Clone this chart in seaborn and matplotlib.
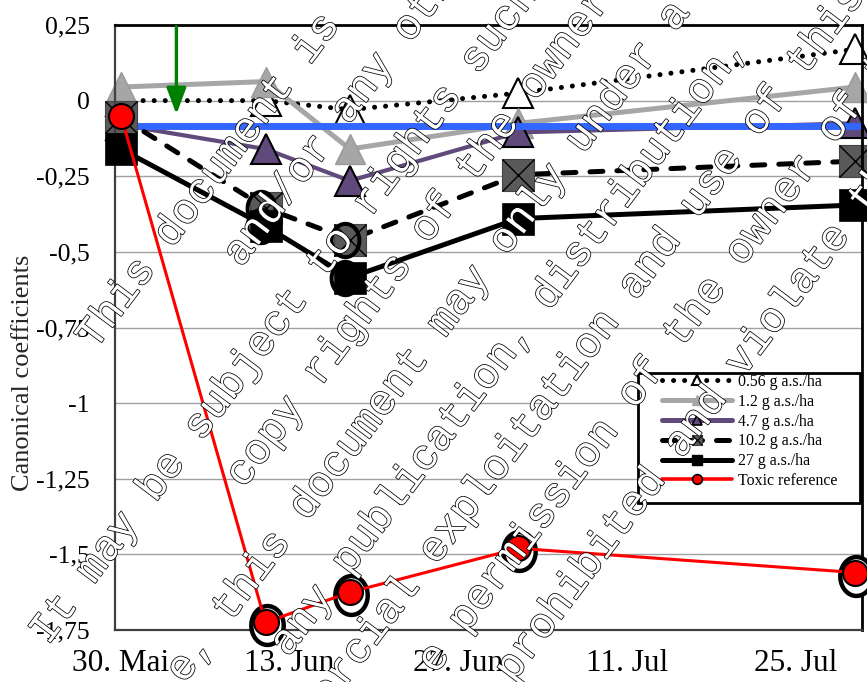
import numpy as np
import pandas as pd
import matplotlib
matplotlib.use("Agg")
import matplotlib.pyplot as plt
import matplotlib.patheffects as pe
import seaborn as sns
from matplotlib.lines import Line2D
from matplotlib.patches import Rectangle
from matplotlib.path import Path
from matplotlib.transforms import ScaledTranslation

# ---- data: canonical coefficients per sampling (days after 30 May) ----
sampling_days = [0, 12, 19, 33, 61]
coef_056 = [0.0, 0.0, -0.03, 0.025, 0.17]
coef_12 = [0.045, 0.063, -0.16, -0.075, 0.045]
coef_47 = [-0.08, -0.16, -0.265, -0.105, -0.075]
coef_102 = [-0.055, -0.355, -0.46, -0.245, -0.2]
coef_27 = [-0.16, -0.415, -0.585, -0.39, -0.345]
coef_toxic = [-0.05, -1.725, -1.625, -1.48, -1.56]
control_level = -0.083
application_day = 4.6

# samplings with a significant deviation from the control
sig_102 = [1, 2]
sig_27 = [1, 2]
sig_toxic = [1, 2, 3, 4]

series_labels = ["0.56 g a.s./ha", "1.2 g a.s./ha", "4.7 g a.s./ha",
                 "10.2 g a.s./ha", "27 g a.s./ha", "Toxic reference"]
series_values = [coef_056, coef_12, coef_47, coef_102, coef_27, coef_toxic]

tick_days = [0, 14, 28, 42, 56]
tick_labels = ["30. Mai", "13. Jun", "27. Jun", "11. Jul", "25. Jul"]
ytick_values = [0.25, 0, -0.25, -0.5, -0.75, -1, -1.25, -1.5, -1.75]
ytick_labels = ["0,25", "0", "-0,25", "-0,5", "-0,75", "-1", "-1,25", "-1,5", "-1,75"]

df = pd.DataFrame({
    "day": sampling_days * len(series_labels),
    "coef": [v for vals in series_values for v in vals],
    "treatment": [lab for lab in series_labels for _ in sampling_days],
})

# ---- styling ----
sns.set_theme(style="white")
plt.rcParams["font.family"] = ["Liberation Serif", "DejaVu Serif"]

GRAY = "#a6a6a6"
PURPLE = "#604a7b"
BOXGRAY = "#5a5a5a"
BLUE = "#3366ff"
DOT = (0, (0.01, 2.2))
DASH = (0, (2.6, 2.8))

styles = {
    "0.56 g a.s./ha": dict(color="black", lw=3.6, linestyle=DOT, dash_capstyle="round",
                           marker="^", ms=22, mfc="white", mec="black", mew=1.5, zorder=2.1),
    "1.2 g a.s./ha": dict(color=GRAY, lw=3.6, marker="^", ms=22, mfc=GRAY, mec="#999999",
                          mew=1.0, zorder=2.2),
    "4.7 g a.s./ha": dict(color=PURPLE, lw=3.0, marker="^", ms=22, mfc=PURPLE, mec="black",
                          mew=1.5, zorder=2.3),
    "10.2 g a.s./ha": dict(color="black", lw=3.6, linestyle=DASH, dash_capstyle="round",
                           marker="s", ms=23, mfc=BOXGRAY, mec="#444444", mew=0.8, zorder=2.5),
    "27 g a.s./ha": dict(color="black", lw=3.6, marker="s", ms=23, mfc="black", mec="black",
                         mew=0.5, zorder=2.6),
    "Toxic reference": dict(color="#ff0000", lw=2.2, marker="o", ms=18, mfc="#ff0000",
                            mec="black", mew=1.5, zorder=2.8),
}

W, H = 867, 682
fig = plt.figure(figsize=(W / 100, H / 100), dpi=100)
fig.patch.set_facecolor("white")
ax = fig.add_axes([115 / W, 52 / H, 747 / W, 605 / H])
ax.set_facecolor("white")

# control as a horizontal reference
ax.axhline(control_level, color=BLUE, lw=5, zorder=2.4)

for lab in series_labels:
    st = dict(styles[lab])
    z = st.pop("zorder")
    sns.lineplot(data=df[df["treatment"] == lab], x="day", y="coef", ax=ax,
                 errorbar=None, sort=True, legend=False, clip_on=False, zorder=z, **st)

# cross inside the 10.2 g boxes
sub102 = df[df["treatment"] == "10.2 g a.s./ha"]
ax.plot(sub102["day"], sub102["coef"], ls="none", marker="x", ms=23, mec="black",
        mew=1.0, zorder=2.55, clip_on=False)

# rings marking significant samplings
theta = np.linspace(0, 2 * np.pi, 60)
ring = Path(np.column_stack([np.cos(theta), 1.2 * np.sin(theta)]), closed=True)
red_shift = ax.transData + ScaledTranslation(0.01, -0.03, fig.dpi_scale_trans)
trt_shift = ax.transData + ScaledTranslation(-0.05, 0.0, fig.dpi_scale_trans)

tox_x = [sampling_days[i] for i in sig_toxic]
tox_y = [coef_toxic[i] for i in sig_toxic]
ax.plot(tox_x, tox_y, ls="none", marker=ring, ms=28, mfc="white", mec="black", mew=3.2,
        zorder=2.75, clip_on=False, transform=red_shift)
for idx, vals in ((sig_102, coef_102), (sig_27, coef_27)):
    ax.plot([sampling_days[i] for i in idx], [vals[i] for i in idx], ls="none",
            marker=ring, ms=24, mfc="none", mec="black", mew=2.9, zorder=2.65,
            clip_on=False, transform=trt_shift)

# application arrow
ax.annotate("", xy=(application_day, -0.045), xytext=(application_day, 0.245),
            arrowprops=dict(arrowstyle="-|>,head_length=1.6,head_width=0.6",
                            color="#008000", lw=2.4, shrinkA=0, shrinkB=0,
                            mutation_scale=10), zorder=4)

# axes
ax.set_xlim(-0.5, 61.54)
ax.set_ylim(-1.75, 0.25)
ax.set_xticks(tick_days)
ax.set_xticklabels(tick_labels)
ax.set_yticks(ytick_values)
ax.set_yticklabels(ytick_labels)
ax.set_xlabel("")
ax.set_ylabel("")
ax.yaxis.grid(True, color="#a0a0a0", lw=1.0)
ax.xaxis.grid(False)
ax.set_axisbelow(True)
ax.tick_params(axis="both", length=0)
ax.tick_params(axis="y", labelsize=18.5, pad=18, labelcolor="black")
ax.tick_params(axis="x", labelsize=22.5, pad=14, labelcolor="black")
for side in ("top", "right"):
    ax.spines[side].set_color("black")
    ax.spines[side].set_linewidth(2.0)
for side in ("left", "bottom"):
    ax.spines[side].set_color("#404040")
    ax.spines[side].set_linewidth(1.6)

fig.text(23 / W, 1 - 373 / H, "Canonical coefficients", rotation=90,
         ha="center", va="center", fontsize=19)

# legend
lh = [
    Line2D([], [], color="black", lw=3.6, linestyle=DOT, dash_capstyle="round",
           marker="^", ms=7, mfc="white", mec="black", mew=1.5),
    Line2D([], [], color=GRAY, lw=3.6, marker="^", ms=7, mfc=GRAY, mec=GRAY),
    Line2D([], [], color=PURPLE, lw=3.6, marker="^", ms=7, mfc=PURPLE, mec="black", mew=1.2),
    (Line2D([], [], color="black", lw=3.6, linestyle=DASH, dash_capstyle="round",
            marker="s", ms=7, mfc=BOXGRAY, mec="#444444", mew=0.8),
     Line2D([], [], ls="none", marker="x", ms=7, mec="black", mew=0.8)),
    Line2D([], [], color="black", lw=3.6, marker="s", ms=7, mfc="black", mec="black"),
    Line2D([], [], color="#ff0000", lw=2.6, marker="o", ms=7, mfc="#ff0000", mec="black", mew=1.2),
]
ax.add_patch(Rectangle((523 / 747, 127 / 605), 222 / 747, 130 / 605, transform=ax.transAxes,
                       facecolor="white", edgecolor="black", lw=2.0, zorder=4.5, clip_on=False))
leg = ax.legend(lh, series_labels, loc="upper left",
                bbox_to_anchor=((662 - 115) / 747, (630 - 374) / 605),
                frameon=False, borderaxespad=0, borderpad=0, handlelength=4.43,
                handletextpad=0.38, labelspacing=0.24, fontsize=11.4, numpoints=1)
leg.set_zorder(5)
for t in leg.get_texts():
    t.set_color("black")

# diagonal outlined notice across the figure
angle = 53.0
ca, sa = np.cos(np.radians(angle)), np.sin(np.radians(angle))
notice_lines = [
    ("This document is subject of", -223, 278),
    ("and/or any other rights", -69, 345),
    ("It may be subject to rights such as", -487, 418),
    ("copy rights of the owner", -244, 480),
    ("e, this document may only under a", -436, 550),
    ("any publication, distribution,", -352, 617),
    ("commercial exploitation and use of this", -470, 680),
    ("e permission of the owner of the", -277, 745),
    ("prohibited and violate the", -237, 812),
]
for text, s0, p in notice_lines:
    pb = p + 9
    x = ca * s0 + sa * pb
    y = -sa * s0 + ca * pb
    fig.text(x / W, 1 - y / H, text, rotation=angle, rotation_mode="anchor",
             ha="left", va="baseline", fontsize=30.6, family="Liberation Mono",
             color="white", zorder=10,
             path_effects=[pe.withStroke(linewidth=1.1, foreground="black")])

fig.savefig("out.png", dpi=100, facecolor="white")
